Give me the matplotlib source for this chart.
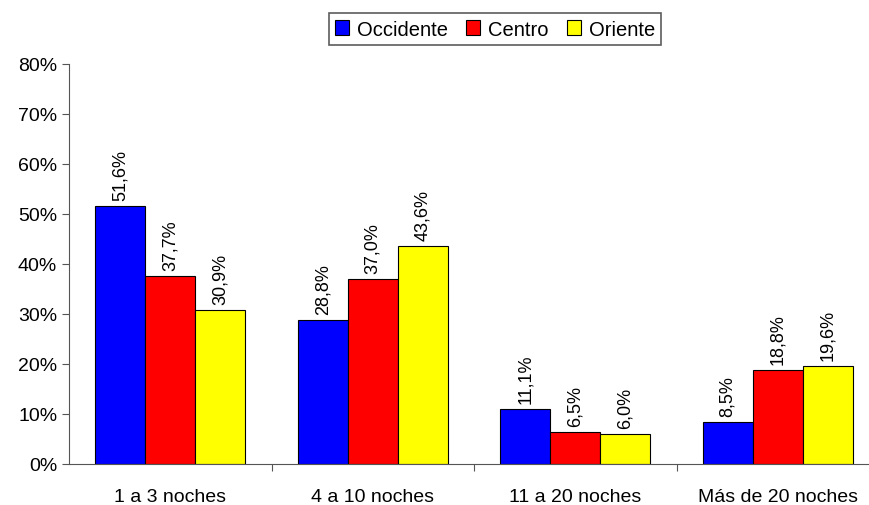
import numpy as np
import matplotlib.pyplot as plt
from matplotlib.ticker import FuncFormatter

# Data
categories = ['1 a 3 noches', '4 a 10 noches', '11 a 20 noches', 'Más de 20 noches']
series_names = ['Occidente', 'Centro', 'Oriente']
occidente = [51.6, 28.8, 11.1, 8.5]
centro = [37.7, 37.0, 6.5, 18.8]
oriente = [30.9, 43.6, 6.0, 19.6]
colors = ['#0000ff', '#ff0000', '#ffff00']

plt.rcParams['font.family'] = ['Liberation Sans', 'DejaVu Sans']

fig = plt.figure(figsize=(8.69, 5.06), dpi=100)
ax = fig.add_axes([69 / 869, 41 / 506, 810 / 869, 400 / 506])

x = np.arange(len(categories))
width = 0.247
all_series = [occidente, centro, oriente]

for i, (vals, name, col) in enumerate(zip(all_series, series_names, colors)):
    pos = x + (i - 1) * width
    ax.bar(pos, vals, width, color=col, edgecolor='black', linewidth=0.8, label=name)
    for p, v in zip(pos, vals):
        ax.annotate(f"{v:.1f}%".replace('.', ','), (p, v), xytext=(0, 4),
                    textcoords='offset points', rotation=90, ha='center', va='bottom',
                    fontsize=13)

ax.set_xlim(-0.5, len(categories) - 0.5)
ax.set_ylim(0, 80)
ax.set_yticks(range(0, 81, 10))
ax.yaxis.set_major_formatter(FuncFormatter(lambda v, _: f"{v:.0f}%"))
ax.set_xticks(x + 0.5)
ax.set_xticklabels([])
ax.set_xticks(x, minor=True)
ax.set_xticklabels(categories, minor=True, fontsize=14)
ax.tick_params(axis='x', which='minor', length=0, pad=17)
ax.tick_params(axis='x', which='major', length=5, direction='out', color='#555555')
ax.tick_params(axis='y', labelsize=14, length=5, color='#555555')

for side in ['top', 'right']:
    ax.spines[side].set_visible(False)
ax.spines['left'].set_color('#555555')
ax.spines['bottom'].set_color('#555555')

leg = ax.legend(loc='center', bbox_to_anchor=(495 / 869, 1 - 30 / 506), bbox_transform=fig.transFigure,
                ncol=3, fontsize=14.5, frameon=True, fancybox=False, edgecolor='#333333',
                handlelength=0.7, handleheight=0.7, handletextpad=0.4, columnspacing=0.9,
                borderpad=0.3, borderaxespad=0.0)
leg.get_frame().set_linewidth(1.2)
for h in leg.legend_handles:
    h.set_edgecolor('black')

fig.savefig('out.png', dpi=100)
